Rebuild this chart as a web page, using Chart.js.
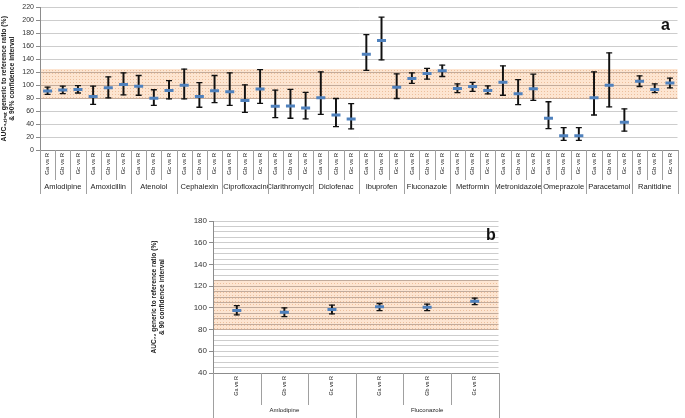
<!DOCTYPE html>
<html>
<head>
<meta charset="utf-8">
<script src="https://cdn.jsdelivr.net/npm/chart.js@4.4.0/dist/chart.umd.min.js"></script>
<style>
body { margin: 0; background: #fff; width: 685px; height: 418px; position: relative; overflow: hidden; font-family: 'Liberation Sans', Arial, sans-serif; }
canvas { position: absolute; }
#chartA { left: 0; top: 0; }
#chartB { left: 150px; top: 210px; }
.tag { position: absolute; font-weight: bold; font-size: 16px; color: #111; }
</style>
</head>
<body>
<canvas id="chartA" width="685" height="194"></canvas>
<canvas id="chartB" width="356" height="208"></canvas>
<div class="tag" style="left:661px;top:16px">a</div>
<div class="tag" style="left:486px;top:226px">b</div>
<script>
// categories
var comparisons = ['Ga vs R', 'Gb vs R', 'Gc vs R']
var drugsA = ['Amlodipine', 'Amoxicillin', 'Atenolol', 'Cephalexin', 'Ciprofloxacin', 'Clarithromycin', 'Diclofenac',
  'Ibuprofen', 'Fluconazole', 'Metformin', 'Metronidazole', 'Omeprazole', 'Paracetamol', 'Ranitidine']
var drugsB = ['Amlodipine', 'Fluconazole']

// panel a: ratio and 90% CI (three generics per drug)
var meanA = [91, 92.5, 93.5, 82.5, 96, 101, 98.5, 80, 92, 100, 82.5, 91.5, 90, 76.5, 94,
  67.5, 68, 65, 80.5, 54, 48, 148, 169, 97, 110.5, 118, 122.5, 95, 98, 92,
  104.5, 87, 94.5, 49, 22, 22, 80.5, 100, 43, 106, 93.5, 103.5]
var lowA = [86, 87, 88, 70.5, 80.5, 85, 84.5, 69, 79, 79, 66, 73, 69, 58, 72,
  50, 49, 48, 55, 36, 32.5, 123, 139, 79.5, 103, 109.5, 113.5, 88.5, 90.5, 86.5,
  84.5, 70, 76.5, 33, 15, 15, 54, 66.5, 29, 98, 88.5, 96]
var highA = [97, 98.5, 99.5, 98.5, 113, 119, 115, 93, 107, 125, 104, 115, 119, 100.5, 124,
  92.5, 93.5, 89, 120.5, 79.5, 71.5, 178, 205, 117.5, 119, 126, 131, 102, 104.5, 99,
  130, 108.5, 117, 74.5, 34.5, 34.5, 120.5, 150, 63.5, 114.5, 102, 111]

// panel b
var meanB = [97.5, 96, 98.5, 101, 100.5, 106]
var lowB = [93.5, 92, 94.5, 97.5, 97.5, 103]
var highB = [102, 100, 102.5, 104, 103.5, 109]

// acceptance range
var bandLow = 80
var bandHigh = 125

Chart.defaults.font.family = "'Liberation Sans', Arial, sans-serif"

function bandPattern(ctx) {
  var c = document.createElement('canvas')
  c.width = 3; c.height = 3
  var p = c.getContext('2d')
  p.fillStyle = '#fde5d1'
  p.fillRect(0, 0, 3, 3)
  p.fillStyle = '#ecbf9c'
  p.fillRect(1, 1, 1, 1)
  return ctx.createPattern(c, 'repeat')
}

// shaded 80-125 band, drawn under the grid
var bandPlugin = {
  id: 'band',
  beforeDraw: function (chart) {
    var a = chart.chartArea, y = chart.scales.y, ctx = chart.ctx
    var top = y.getPixelForValue(bandHigh), bot = y.getPixelForValue(bandLow)
    ctx.save()
    ctx.fillStyle = bandPattern(ctx)
    ctx.fillRect(a.left, top, a.right - a.left, bot - top)
    ctx.restore()
  }
}

// vertical dividers in the category label area
var sepPlugin = {
  id: 'separators',
  afterDraw: function (chart) {
    var x = chart.scales.x, g = chart.scales.group, ctx = chart.ctx
    var n = x.getLabels().length
    ctx.save()
    ctx.strokeStyle = '#a0a0a0'
    ctx.lineWidth = 1
    for (var i = 0; i <= n; i++) {
      var px = Math.round(x.getPixelForValue(i - 0.5)) + 0.5
      ctx.beginPath()
      ctx.moveTo(px, x.top)
      ctx.lineTo(px, i % 3 === 0 ? g.bottom : x.bottom)
      ctx.stroke()
    }
    ctx.restore()
  }
}

function makeChart(id, drugs, mean, low, high, o) {
  var labels = drugs.flatMap(function () { return comparisons })
  return new Chart(document.getElementById(id), {
    data: {
      labels: labels,
      datasets: [
        { type: 'line', data: mean, showLine: false, pointStyle: 'line', pointRadius: o.markR,
          pointBorderWidth: 3, pointBorderColor: '#4f81bd', pointBackgroundColor: '#4f81bd', order: 0 },
        { type: 'line', data: high, showLine: false, pointStyle: 'line', pointRadius: 3,
          pointBorderWidth: 1.3, pointBorderColor: '#111', pointBackgroundColor: '#111', order: 1 },
        { type: 'line', data: low, showLine: false, pointStyle: 'line', pointRadius: 3,
          pointBorderWidth: 1.3, pointBorderColor: '#111', pointBackgroundColor: '#111', order: 1 },
        { type: 'bar', data: low.map(function (v, i) { return [v, high[i]] }),
          barThickness: 1.3, backgroundColor: '#111', order: 2 }
      ]
    },
    options: {
      responsive: false,
      animation: false,
      layout: { padding: o.padding },
      plugins: { legend: { display: false }, tooltip: { enabled: false } },
      scales: {
        x: {
          offset: true,
          afterFit: function (s) { s.height = o.xH },
          grid: { drawOnChartArea: false, drawTicks: false },
          border: { color: '#8c8c8c' },
          ticks: { autoSkip: false, minRotation: 90, maxRotation: 90, font: { size: o.catFont }, color: '#222', padding: 3 }
        },
        group: {
          type: 'category',
          labels: drugs,
          position: 'bottom',
          offset: true,
          weight: 1,
          afterFit: function (s) { s.height = o.gH },
          grid: { display: false, drawTicks: false, tickLength: 0 },
          border: { display: false },
          ticks: { autoSkip: false, minRotation: 0, maxRotation: 0, font: { size: o.groupFont }, color: '#222', padding: 2 }
        },
        y: {
          min: o.min,
          max: o.max,
          afterFit: function (s) { s.width = o.yW },
          ticks: {
            stepSize: o.step,
            autoSkip: false,
            font: { size: o.tickFont },
            color: '#333',
            padding: 2,
            callback: function (v) { return v % o.labelStep === 0 ? v : '' }
          },
          grid: {
            tickLength: 4,
            color: function (c) {
              var v = c.tick ? c.tick.value : 0
              return (v >= bandLow && v <= bandHigh) ? '#c2ab9b' : '#cdcdcd'
            },
            tickColor: function (c) {
              return c.tick && c.tick.value % o.labelStep === 0 ? '#8c8c8c' : 'rgba(0,0,0,0)'
            }
          },
          border: { color: '#8c8c8c' },
          title: { display: true, text: o.title, font: { size: o.titleFont, weight: 'bold' }, color: '#222', padding: 0 }
        }
      }
    },
    plugins: [bandPlugin, sepPlugin]
  })
}

makeChart('chartA', drugsA, meanA, lowA, highA, {
  min: 0, max: 220, step: 20, labelStep: 20,
  yW: 40, xH: 30, gH: 14, markR: 4.5,
  padding: { top: 0, right: 2, bottom: 0, left: 0 },
  catFont: 6, groupFont: 7.5, tickFont: 7, titleFont: 6.8,
  title: ['AUC\u2080\u208B\u209C\u2097\u2090\u209B\u209C generic to reference ratio (%)', '& 90% confidence interval']
})

makeChart('chartB', drugsB, meanB, lowB, highB, {
  min: 40, max: 180, step: 5, labelStep: 20,
  yW: 63, xH: 32, gH: 13, markR: 4.5,
  padding: { top: 11, right: 3, bottom: 0, left: 0 },
  catFont: 5.5, groupFont: 6, tickFont: 8, titleFont: 6.6,
  title: ['AUC\u2087\u2082 generic to reference ratio (%)', '& 90 confidence interval']
})
</script>
</body>
</html>
